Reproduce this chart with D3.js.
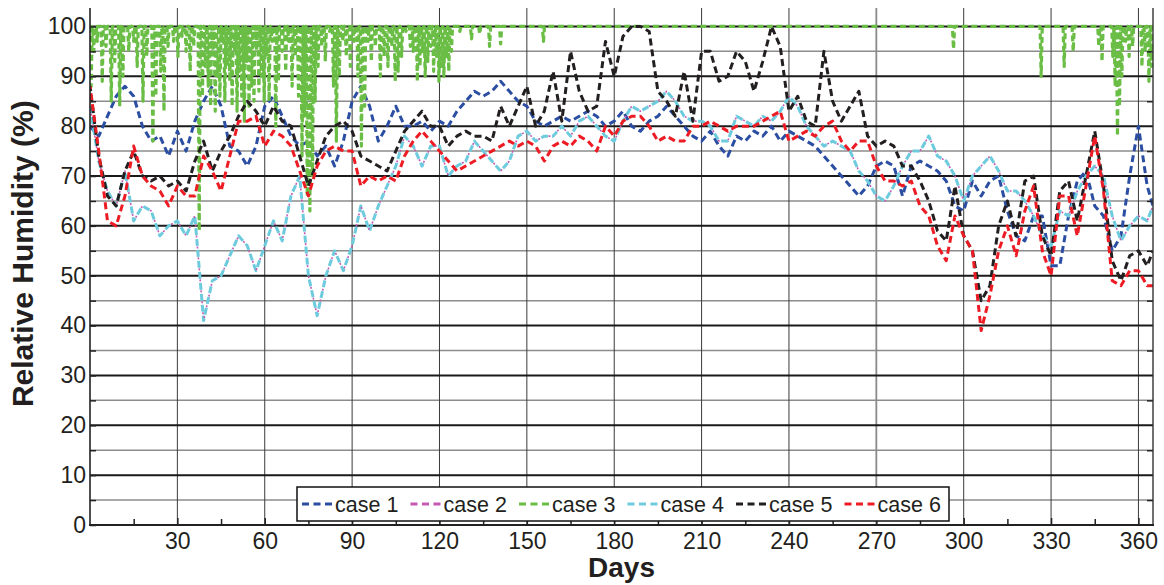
<!DOCTYPE html>
<html>
<head>
<meta charset="utf-8">
<script src="https://cdn.jsdelivr.net/npm/d3@7"></script>
<style>
  body { margin: 0; background: #fff; }
  svg { display: block; font-family: "Liberation Sans", Arial, Helvetica, sans-serif; }
</style>
</head>
<body>
<div id="chart"></div>
<script>
// values read every 3 days (0..363) plus day 365
const days = d3.range(0, 364, 3).concat([365]);

const caseNames = ['case 1', 'case 2', 'case 3', 'case 4', 'case 5', 'case 6'];
const caseColors = ['#2b4ea2', '#c45ab3', '#6abd45', '#6dcbdd', '#231f20', '#ed1c24'];

const case1 = [
  80,78,82,86,88,86,80,77,78,74,79,75,81,85,88,84,76,75,72,76,84,
  86,82,78,76,77,74,76,72,77,85,88,84,77,80,84,80,80,81,79,81,
  80,83,85,87,86,87,89,87,85,84,81,80,81,82,81,82,83,82,80,81,
  83,80,79,81,82,84,82,80,78,77,79,76,74,78,77,79,78,80,77,79,
  78,77,76,74,72,70,68,66,68,72,73,72,66,72,73,72,71,69,64,63,
  69,66,69,70,63,58,57,62,62,52,52,62,69,71,64,62,55,58,70,80,68,64
];

const case4 = [
  84,73,67,64,71,61,64,63,58,60,61,58,62,41,49,50,54,58,56,51,56,
  61,57,66,70,50,42,50,55,51,56,64,59,64,68,72,78,76,72,76,76,
  70,72,73,77,75,73,71,73,78,79,77,78,78,80,78,81,82,80,78,77,
  81,84,83,84,85,87,85,82,81,81,80,77,77,82,81,80,82,81,83,86,
  84,80,78,76,77,76,75,71,69,66,65,68,72,75,75,78,74,73,70,65,
  70,72,74,71,67,67,65,62,58,56,63,62,67,70,72,70,62,57,60,62,61,64
];

// case 2 lies exactly under case 4 in the picture
const case2 = case4.slice();

const case5 = [
  88,74,66,64,71,75,70,69,70,68,69,67,73,77,71,75,78,82,85,83,80,
  84,81,80,74,68,73,78,80,81,79,74,73,72,71,75,79,81,83,80,80,
  76,78,79,78,78,77,84,80,84,88,80,83,91,81,95,87,83,84,97,90,
  98,100,100,99,87,85,82,91,81,95,95,89,90,95,93,87,93,100,96,83,
  86,81,80,95,85,81,84,87,78,76,77,76,72,72,69,65,59,57,68,58,
  55,45,48,60,65,58,69,70,58,54,67,69,61,70,79,68,53,49,54,55,52,55
];

const case6 = [
  88,75,61,60,66,76,70,68,67,64,68,66,66,74,71,67,74,81,81,82,76,
  79,78,76,71,66,72,75,76,75,75,68,70,69,70,69,74,77,79,77,75,
  73,71,72,73,74,75,76,77,76,77,76,73,76,77,76,78,77,75,80,78,
  81,82,82,80,77,78,77,77,80,80,81,80,79,80,80,80,81,82,83,77,
  78,79,78,80,81,77,75,77,77,72,69,69,68,69,64,62,56,53,62,58,
  55,39,46,55,60,54,63,68,55,50,66,66,58,68,78,67,49,48,51,51,48,48
];

// case 3 sits at 100 and drops in short dips: [day, lowest value]
const case3Top = 100;
const case3Dips = [
  [0.4,88],[1.3,95],[2.5,97],[4.2,89],[5.5,96],[7.3,85],[8.5,93],[10.2,84],[11.3,90],
  [13.3,95],[15,97],[16.2,92],[18.2,85],[19.5,94],[21.6,77],[22.6,86],[24.3,91],[25.4,83],
  [26.8,96],[28.7,97],[30.2,94],[31.6,98],[33,95],[34.4,91],[35.6,96],[37.5,59],[38.6,86],
  [39.6,92],[40.6,88],[41.4,84],[42.2,95],[43,83],[43.8,90],[44.6,86],[45.4,97],[46.3,85],
  [47.2,92],[48,89],[48.8,84],[49.6,95],[50.5,83],[51.3,91],[52.1,86],[53,81],[53.8,93],
  [54.6,84],[55.5,88],[56.3,85],[57.2,95],[58,87],[58.9,90],[59.8,85],[60.7,94],[61.5,85],
  [62.5,97],[63.8,80],[64.7,89],[66,95],[67.2,91],[68.2,97],[69.4,88],[70.5,94],[71.6,86],
  [72.8,74],[73.6,82],[74.6,66],[75.5,63],[76.4,70],[77.3,85],[78.3,92],[79.6,96],[80.8,93],
  [82.3,99],[83.6,88],[84.6,77],[85.6,90],[86.8,97],[88,94],[89.4,92],[90.6,97],[92,90],
  [93.2,76],[94.3,84],[95.5,97],[96.6,93],[98,96],[99.7,90],[101,94],[102.3,92],[103.6,96],
  [104.8,89],[105.8,91],[107,94],[108.5,99],[110,96],[111,95],[112.4,89],[113.3,92],[114.2,95],
  [115.1,90],[116,93],[117,96],[118,91],[119,94],[119.8,89],[120.7,92],[121.5,90],[122.4,94],
  [123.2,91],[124.1,95],[127,99],[131,97.5],[133.8,98.5],[137.2,96],[141,96.5],[155.7,97],
  [296.5,95.5],[326.6,90],[334.5,92],[337.6,95],[346.4,96],[347.5,93],[351.2,94],[352,88],
  [352.8,78],[353.5,84],[354.3,90],[355.6,97],[356.8,94],[358,96],[361.2,92],[362.3,95],
  [363.6,89],[364.5,92]
];

const xTicks = d3.range(30, 361, 30);
const xMinorTicks = d3.range(15, 365, 30);
const yTicks = d3.range(0, 101, 10);
const yMinorTicks = d3.range(5, 100, 10);

function createVisualization() {
  const width = 1164, height = 585;
  const margin = { top: 8, right: 11, bottom: 60, left: 90 };

  const svg = d3.select('#chart')
    .append('svg')
    .attr('width', width)
    .attr('height', height);

  const x = d3.scaleLinear()
    .domain([0, 365])
    .range([margin.left, width - margin.right]);

  const y = d3.scaleLinear()
    .domain([0, 103.7])
    .range([height - margin.bottom, margin.top]);

  const x0 = x.range()[0], x1 = x.range()[1];
  const y0 = y.range()[0], y1 = y.range()[1];

  svg.append('defs').append('clipPath')
    .attr('id', 'plotClip')
    .append('rect')
    .attr('x', x0).attr('y', y1)
    .attr('width', x1 - x0).attr('height', y0 - y1);

  // grid
  const grid = svg.append('g');
  grid.selectAll('.hminor')
    .data(yMinorTicks)
    .enter().append('line')
    .attr('x1', x0).attr('x2', x1)
    .attr('y1', d => y(d)).attr('y2', d => y(d))
    .attr('stroke', '#8c8c8c').attr('stroke-width', 1.5);

  grid.selectAll('.vline')
    .data(xTicks)
    .enter().append('line')
    .attr('x1', d => x(d)).attr('x2', d => x(d))
    .attr('y1', y1).attr('y2', y0)
    .attr('stroke', d => d === 270 ? '#8a8a8a' : '#3a3a3a')
    .attr('stroke-width', d => d === 270 ? 1.8 : 1);

  grid.selectAll('.hmajor')
    .data(yTicks.filter(d => d > 0))
    .enter().append('line')
    .attr('x1', x0).attr('x2', x1)
    .attr('y1', d => y(d)).attr('y2', d => y(d))
    .attr('stroke', '#1a1a1a').attr('stroke-width', 2);

  // series
  const line = d3.line()
    .x(d => x(d[0]))
    .y(d => y(d[1]));

  const greenPts = [[0, case3Top]];
  case3Dips.forEach(([d, v]) => {
    greenPts.push([d - 0.38, case3Top], [d, v], [d + 0.38, case3Top]);
  });
  greenPts.push([365, case3Top]);

  const series = [
    { name: caseNames[0], color: caseColors[0], pts: days.map((d, i) => [d, case1[i]]), w: 3, dash: '7,4', off: 0 },
    { name: caseNames[1], color: caseColors[1], pts: days.map((d, i) => [d, case2[i]]), w: 1.6, dash: '2,9', off: -7.5 },
    { name: caseNames[2], color: caseColors[2], pts: greenPts, w: 3.2, dash: '6,3.5', off: 0 },
    { name: caseNames[3], color: caseColors[3], pts: days.map((d, i) => [d, case4[i]]), w: 3, dash: '7,4', off: 0 },
    { name: caseNames[4], color: caseColors[4], pts: days.map((d, i) => [d, case5[i]]), w: 3, dash: '7,4', off: 2 },
    { name: caseNames[5], color: caseColors[5], pts: days.map((d, i) => [d, case6[i]]), w: 3, dash: '7,4', off: 4 }
  ];

  const plot = svg.append('g').attr('clip-path', 'url(#plotClip)');
  // case 2 goes above case 4 with sparse dots, so it shows in the gaps
  const drawOrder = [series[0], series[2], series[3], series[1], series[4], series[5]];
  plot.selectAll('.series')
    .data(drawOrder)
    .enter().append('path')
    .attr('class', 'series')
    .attr('d', d => line(d.pts))
    .attr('fill', 'none')
    .attr('stroke', d => d.color)
    .attr('stroke-width', d => d.w)
    .attr('stroke-dasharray', d => d.dash)
    .attr('stroke-dashoffset', d => d.off)
    .attr('stroke-linejoin', 'round');

  // axes
  const yAxis = d3.axisLeft(y)
    .tickValues(yTicks)
    .tickSizeInner(-6)
    .tickSizeOuter(0)
    .tickPadding(4);

  const gy = svg.append('g')
    .attr('transform', `translate(${x0},0)`)
    .call(yAxis);
  gy.select('.domain').remove();
  gy.selectAll('text')
    .attr('font-size', '23px')
    .attr('font-family', '"Liberation Sans", Arial, sans-serif')
    .attr('fill', '#231f20');
  gy.selectAll('line').attr('stroke', '#222').attr('stroke-width', 1.5);

  const yMinor = d3.axisLeft(y).tickValues(yMinorTicks).tickSizeInner(-6).tickSizeOuter(0).tickFormat('');
  svg.append('g').attr('transform', `translate(${x0},0)`).call(yMinor)
    .call(g => g.select('.domain').remove())
    .selectAll('line').attr('stroke', '#222').attr('stroke-width', 1.5);

  const yRight = d3.axisRight(y).tickValues(yMinorTicks).tickSizeInner(-6).tickSizeOuter(0).tickFormat('');
  svg.append('g').attr('transform', `translate(${x1},0)`).call(yRight)
    .call(g => g.select('.domain').remove())
    .selectAll('line').attr('stroke', '#222').attr('stroke-width', 1.5);

  const xAxis = d3.axisBottom(x)
    .tickValues(xTicks)
    .tickSizeInner(-7)
    .tickSizeOuter(0)
    .tickPadding(8);

  const gx = svg.append('g')
    .attr('transform', `translate(0,${y0})`)
    .call(xAxis);
  gx.select('.domain').remove();
  gx.selectAll('text')
    .attr('font-size', '23px')
    .attr('font-family', '"Liberation Sans", Arial, sans-serif')
    .attr('fill', '#231f20');
  gx.selectAll('line').attr('stroke', '#222').attr('stroke-width', 1.5);

  const xMinor = d3.axisBottom(x).tickValues(xMinorTicks).tickSizeInner(-6).tickSizeOuter(0).tickFormat('');
  svg.append('g').attr('transform', `translate(0,${y0})`).call(xMinor)
    .call(g => g.select('.domain').remove())
    .selectAll('line').attr('stroke', '#222').attr('stroke-width', 1.5);

  // frame lines (left, right, bottom)
  svg.append('line').attr('x1', x0).attr('x2', x0).attr('y1', y1).attr('y2', y0)
    .attr('stroke', '#222').attr('stroke-width', 1.6);
  svg.append('line').attr('x1', x1).attr('x2', x1).attr('y1', y1).attr('y2', y0)
    .attr('stroke', '#333').attr('stroke-width', 1.4);
  svg.append('line').attr('x1', x0 - 1).attr('x2', x1 + 1).attr('y1', y0).attr('y2', y0)
    .attr('stroke', '#222').attr('stroke-width', 2);

  // axis titles
  svg.append('text')
    .attr('transform', `translate(33,${(y(0) + y(100)) / 2 - 22}) rotate(-90)`)
    .attr('text-anchor', 'middle')
    .attr('font-size', '30px')
    .attr('font-weight', 'bold')
    .attr('fill', '#231f20')
    .text('Relative Humidity (%)');

  svg.append('text')
    .attr('x', (x0 + x1) / 2)
    .attr('y', 577)
    .attr('text-anchor', 'middle')
    .attr('font-size', '28px')
    .attr('font-weight', 'bold')
    .attr('fill', '#231f20')
    .text('Days');

  // legend
  const legend = svg.append('g').attr('transform', 'translate(297,487)');
  legend.append('rect')
    .attr('width', 652).attr('height', 34)
    .attr('fill', '#fff')
    .attr('stroke', '#111').attr('stroke-width', 1.5);

  const item = legend.selectAll('.item')
    .data(series)
    .enter().append('g')
    .attr('transform', (d, i) => `translate(${5 + i * 108.5},17)`);
  item.append('line')
    .attr('x1', 0).attr('x2', 30)
    .attr('stroke', d => d.color)
    .attr('stroke-width', 2.8)
    .attr('stroke-dasharray', '7,4.5');
  item.append('text')
    .attr('x', 33)
    .attr('y', 7.5)
    .attr('font-size', '21.5px')
    .attr('fill', '#231f20')
    .text(d => d.name);
}

createVisualization();
</script>
</body>
</html>
